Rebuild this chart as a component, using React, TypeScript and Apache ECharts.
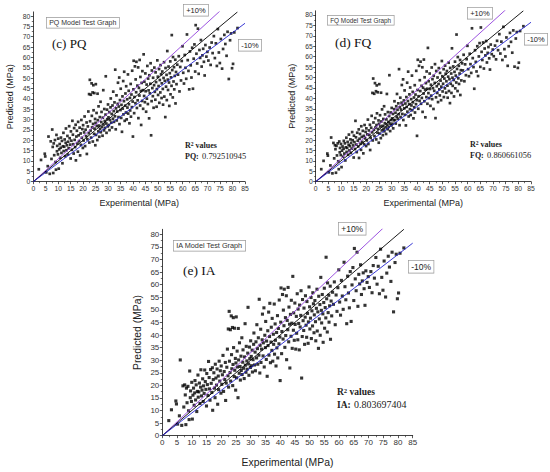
import React, { useEffect, useRef } from "react";
import * as echarts from "echarts";

const xTicks = [0, 5, 10, 15, 20, 25, 30, 35, 40, 45, 50, 55, 60, 65, 70, 75, 80, 85];
const yTicks = [0, 5, 10, 15, 20, 25, 30, 35, 40, 45, 50, 55, 60, 65, 70, 75, 80];

const experimental = [
  2.2, 3.1, 4.6, 4.8, 5.2, 5.8, 6.1, 6.6, 7.0, 7.3, 7.6, 7.8, 8.0, 8.2, 8.4, 8.7, 8.9, 9.1, 9.3, 9.5, 9.6, 9.9, 10.0, 10.2, 10.4,
  10.6, 10.8, 11.0, 11.1, 11.3, 11.5, 11.7, 11.9, 12.1, 12.2, 12.4, 12.6, 12.8, 13.0, 13.1, 13.3, 13.5, 13.7, 13.9, 14.0,
  14.2, 14.4, 14.6, 14.8, 15.0, 15.1, 15.3, 15.5, 15.7, 15.9, 16.0, 16.2, 16.4, 16.6, 16.8, 17.0, 17.1, 17.3, 17.5, 17.7,
  17.9, 18.0, 18.2, 18.4, 18.6, 18.8, 19.0, 19.1, 19.3, 19.5, 19.7, 19.9, 20.0, 20.2, 20.4,
  20.6, 20.8, 21.0, 21.2, 21.4, 21.5, 21.7, 21.9, 22.1, 22.3, 22.4, 22.5, 22.7, 22.8, 23.0, 23.1, 23.2, 23.4, 23.5, 23.6,
  23.8, 23.9, 24.0, 24.1, 24.2, 24.4, 24.5, 24.6, 24.8, 24.9, 25.0, 25.1, 25.2, 25.4, 25.5, 25.7, 25.8, 25.9, 26.1, 26.2,
  26.4, 26.5, 26.7, 26.8, 27.0, 27.1, 27.3, 27.4, 27.6, 27.8, 27.9, 28.1, 28.2, 28.4, 28.5, 28.7, 28.8, 29.0, 29.1, 29.3,
  29.4, 29.6, 29.7, 29.9, 30.0, 30.2, 30.3, 30.5, 30.6, 30.8,
  31.0, 31.1, 31.3, 31.5, 31.6, 31.8, 32.0, 32.1, 32.3, 32.4, 32.6, 32.8, 32.9, 33.1, 33.2, 33.4, 33.5, 33.7, 33.9, 34.0,
  34.2, 34.3, 34.5, 34.6, 34.8, 35.0, 35.1, 35.3, 35.4, 35.6, 35.8, 35.9, 36.1, 36.2, 36.4, 36.5, 36.7, 36.9, 37.0, 37.2,
  37.3, 37.5, 37.7, 37.8, 38.0, 38.1, 38.3, 38.4, 38.6, 38.8, 38.9, 39.1, 39.2, 39.4, 39.6, 39.7, 39.9, 40.0, 40.2, 40.3,
  40.5, 40.6, 40.8, 41.0, 41.1, 41.3, 41.4, 41.6, 41.8, 41.9, 42.1, 42.2, 42.4, 42.6, 42.7, 42.9, 43.0, 43.2, 43.3, 43.5,
  43.7, 43.8, 44.0, 44.1, 44.3, 44.5, 44.6, 44.8, 45.0, 45.1,
  45.3, 45.5, 45.6, 45.8, 46.0, 46.1, 46.3, 46.5, 46.6, 46.8, 47.0, 47.1, 47.3, 47.5, 47.6, 47.8, 48.0, 48.1, 48.3, 48.5,
  48.6, 48.8, 49.0, 49.1, 49.3, 49.5, 49.6, 49.8, 50.0, 50.1, 50.3, 50.5, 50.6, 50.8, 51.0, 51.1, 51.3, 51.5, 51.6, 51.8,
  52.0, 52.1, 52.3, 52.5, 52.6, 52.8, 53.0, 53.1, 53.3, 53.5, 53.6, 53.8, 54.0, 54.1, 54.3, 54.5, 54.6, 54.8, 55.0, 55.1,
  55.3, 55.5, 55.6, 55.8, 56.0, 56.1, 56.3, 56.5, 56.6, 56.8, 57.0, 57.1, 57.3, 57.5, 57.8,
  58.1, 58.4, 58.7, 59.0, 59.3, 59.6, 59.9, 60.2, 60.5, 60.8, 61.1, 61.4, 61.7, 62.0, 62.3, 62.6, 62.9, 63.2, 63.5, 63.8,
  64.1, 64.4, 64.7, 65.0, 65.2, 65.5, 65.8, 66.1, 66.4, 66.7, 67.0, 67.3, 67.6, 67.9, 68.2, 68.5, 68.8, 69.1, 69.5, 69.9,
  70.3, 70.8, 71.2, 71.6, 72.0, 72.5, 72.9, 73.3, 73.7, 74.1, 74.5, 74.9, 75.3, 75.8, 76.2, 76.7, 77.1, 77.6, 78.0, 78.5,
  79.0, 79.4, 79.8, 80.2, 80.7, 82.0,
];

const predictedPQ = [
  6, 10.5, 13.5, 12.2, 4.5, 7.5, 21.8, 3.8, 19.5, 11, 25.2, 16.8, 4.2, 18.5, 12.8, 20.1, 9.5, 5.8, 22.6, 14.7, 17.3, 13.2, 20.8, 6.3, 15.6,
  18.2, 11.5, 16.4, 21.3, 13.9, 19.7, 8.9, 17.1, 23.6, 14.8, 16.9, 20.4, 12.3, 18.8, 25.7, 15.2, 17.6, 22.1, 13.1, 19.3,
  16.2, 26.8, 21.0, 17.9, 11.2, 24.3, 19.8, 15.4, 29.4, 22.7, 18.1, 13.6, 25.9, 20.2, 16.7, 27.5, 10.3, 21.8, 24.6, 18.4,
  14.5, 28.9, 22.4, 19.6, 26.1, 12.7, 23.3, 17.8, 29.8, 21.2, 25.4, 16.3, 27.3, 19.9, 23.8,
  31.5, 17.2, 25.1, 22.0, 28.6, 13.4, 20.5, 26.7, 33.9, 23.4, 42.3, 18.9, 49.2, 29.2, 24.7, 42.0, 21.3, 47.5, 31.8, 26.2,
  43.1, 19.4, 27.9, 46.6, 34.5, 23.1, 42.8, 25.6, 30.3, 17.6, 28.4, 47.1, 22.6, 33.2, 26.9, 20.1, 42.5, 29.7, 24.3, 36.4,
  27.1, 21.7, 31.2, 25.5, 38.6, 23.9, 28.8, 33.7, 26.4, 22.2, 30.9, 44.2, 27.6, 24.8, 35.1, 29.3, 26.0, 32.4, 50.9, 28.1,
  23.6, 34.8, 30.2, 26.7, 37.3, 31.1, 27.4, 33.6, 24.9, 29.8,
  35.9, 40.2, 28.5, 32.7, 26.2, 36.8, 30.4, 43.5, 34.1, 28.9, 38.3, 31.6, 54.1, 25.3, 35.4, 41.7, 29.6, 33.9, 37.6, 47.8,
  31.2, 36.3, 50.3, 27.8, 39.4, 34.6, 44.9, 30.8, 37.1, 24.1, 41.2, 35.3, 48.6, 32.5, 38.9, 53.1, 29.4, 36.7, 42.6, 33.4,
  46.1, 30.1, 39.8, 35.8, 51.8, 32.9, 43.9, 37.4, 28.2, 40.5, 34.4, 47.2, 31.4, 42.1, 36.0, 53.6, 38.7, 21.8, 44.6, 58.4,
  33.1, 40.9, 55.7, 37.9, 49.4, 43.2, 57.9, 35.6, 46.4, 39.3, 55.2, 30.7, 45.3, 41.6, 58.8, 36.8, 50.6, 43.8, 27.4, 47.7,
  39.0, 53.4, 44.2, 35.2, 61.5, 41.4, 48.3, 38.4, 52.3, 43.7,
  33.8, 46.9, 40.1, 55.9, 37.5, 49.8, 44.1, 30.6, 51.4, 42.7, 47.3, 57.2, 22.4, 38.9, 53.7, 45.2, 41.3, 50.2, 35.7, 46.6,
  55.1, 43.4, 39.6, 52.8, 48.1, 36.2, 44.7, 58.6, 50.7, 41.9, 46.2, 54.4, 38.1, 49.1, 43.1, 56.3, 51.9, 40.4, 47.5, 53.2,
  44.8, 37.2, 50.1, 57.7, 41.1, 48.7, 31.2, 54.9, 45.9, 51.6, 39.4, 63.1, 49.3, 44.3, 55.6, 47.9, 36.6, 52.4, 58.1, 42.2,
  50.4, 46.3, 70.8, 53.9, 40.7, 60.2, 48.4, 55.3, 44.6, 51.1, 58.9, 37.8, 53.0, 47.1, 56.5,
  51.7, 60.6, 43.6, 55.4, 48.9, 58.3, 65.4, 52.6, 47.4, 61.2, 55.0, 49.7, 71.1, 58.7, 53.5, 44.6, 62.9, 56.2, 50.3, 64.7,
  44.9, 59.4, 66.3, 53.2, 75.6, 61.8, 57.1, 73.9, 52.1, 63.6, 59.8, 68.4, 55.6, 61.0, 64.2, 57.9, 51.3, 66.0, 60.4, 62.7,
  58.5, 64.8, 56.4, 67.2, 62.1, 70.3, 59.7, 66.8, 55.9, 73.7, 62.4, 57.3, 68.9, 54.6, 64.1, 70.9, 66.5, 60.8, 72.4, 49.6,
  68.3, 71.6, 54.8, 56.9, 72.1, 74.2,
];

const predictedFQ = [
  6, 10, 13.5, 12.5, 4.5, 7.8, 21.2, 4, 18.6, 11.2, 17.5, 15.6, 4.3, 17.2, 12.6, 18.4, 9.8, 6, 19.3, 14.1, 16.2, 12.8, 18.1, 7, 14.9,
  16.9, 12.0, 15.8, 19.6, 13.5, 18.4, 10.2, 16.5, 21.1, 14.3, 16.2, 19.1, 12.9, 17.7, 22.6, 15.0, 17.1, 20.3, 13.8, 18.6,
  15.9, 23.8, 19.9, 17.4, 11.6, 22.1, 19.0, 15.7, 29.2, 21.3, 17.8, 14.2, 23.5, 19.7, 16.9, 25.1, 11.4, 20.6, 22.9, 18.2,
  15.3, 26.6, 21.5, 19.1, 24.4, 13.6, 22.0, 18.0, 27.2, 20.8, 23.9, 17.1, 25.6, 19.8, 22.7,
  29.8, 18.1, 24.6, 22.4, 27.3, 15.2, 21.0, 25.9, 31.6, 23.7, 42.6, 19.8, 49.5, 28.4, 24.9, 42.2, 21.9, 47.3, 30.5, 26.0,
  43.4, 20.3, 27.2, 46.2, 32.8, 23.5, 42.9, 25.3, 29.4, 18.7, 27.8, 46.8, 23.1, 31.9, 26.5, 20.9, 42.7, 28.9, 24.6, 34.7,
  26.8, 22.3, 30.1, 25.4, 36.2, 24.2, 28.1, 32.3, 26.1, 22.9, 29.9, 42.1, 27.3, 25.2, 33.4, 28.7, 26.3, 31.5, 51.1, 27.9,
  24.3, 33.2, 29.6, 27.0, 35.4, 30.4, 27.8, 32.5, 25.6, 29.5,
  34.8, 38.6, 29.6, 33.1, 27.9, 36.2, 31.2, 42.1, 34.5, 30.2, 37.6, 32.4, 54.0, 27.1, 35.7, 40.3, 31.0, 34.6, 37.9, 46.4,
  32.5, 36.8, 49.1, 29.6, 39.0, 35.2, 43.8, 32.1, 37.5, 27.0, 40.6, 35.9, 47.5, 33.6, 38.7, 52.8, 31.3, 37.2, 41.9, 34.8,
  45.2, 32.0, 39.6, 36.6, 50.9, 34.3, 43.1, 38.1, 30.4, 40.4, 35.7, 46.3, 33.2, 41.8, 37.2, 53.2, 39.1, 22.0, 44.0, 58.5,
  35.0, 41.0, 55.6, 38.8, 48.7, 43.5, 57.6, 37.4, 46.0, 40.2, 54.9, 33.5, 45.1, 42.3, 58.6, 38.6, 50.1, 44.2, 30.9, 47.3,
  40.6, 52.9, 44.6, 37.4, 64.2, 42.5, 48.2, 40.1, 51.9, 44.5,
  36.4, 46.5, 41.3, 54.8, 39.6, 49.2, 44.9, 34.9, 50.8, 43.6, 47.4, 56.4, 30.5, 40.5, 53.1, 45.8, 42.6, 50.0, 38.2, 46.9,
  54.5, 44.3, 41.4, 52.2, 48.5, 39.1, 45.6, 57.9, 50.6, 43.3, 47.0, 54.0, 40.6, 49.5, 44.8, 55.7, 51.8, 42.7, 48.2, 53.1,
  46.1, 40.3, 50.4, 57.1, 43.5, 49.2, 37.7, 54.6, 47.0, 51.9, 42.6, 64.0, 49.9, 46.0, 55.3, 48.8, 40.9, 52.7, 57.6, 44.8,
  50.9, 47.6, 70.6, 54.1, 43.5, 59.8, 49.6, 55.6, 46.9, 51.9, 58.4, 41.6, 53.5, 48.6, 56.8,
  53.4, 60.9, 48.2, 56.3, 51.1, 58.8, 65.2, 54.0, 50.6, 61.4, 56.4, 52.2, 73.6, 59.3, 55.0, 44.6, 63.1, 57.5, 52.9, 65.0,
  50.7, 60.1, 66.5, 55.1, 74.0, 62.3, 58.4, 66.8, 54.3, 63.9, 60.6, 67.5, 57.2, 61.8, 64.6, 59.2, 53.8, 65.8, 61.2, 63.4,
  60.2, 65.3, 58.7, 67.6, 63.1, 70.8, 61.5, 67.2, 58.4, 74.3, 63.6, 60.1, 69.2, 55.6, 65.0, 71.4, 67.1, 61.9, 72.6, 55.2,
  68.7, 71.8, 54.6, 57.1, 72.3, 74.6,
];

const predictedIA = [
  6, 10.3, 13.8, 12.6, 4.6, 7.9, 30.1, 4.1, 19.8, 11.4, 20.2, 16.2, 4.4, 18.9, 13.1, 19.6, 9.9, 6.4, 25.7, 15.1, 17.8, 13.6, 21.2, 6.6, 16.1,
  18.9, 12.1, 17.0, 21.9, 14.2, 20.2, 9.6, 17.6, 24.1, 15.3, 17.4, 20.9, 12.8, 19.3, 26.2, 15.8, 18.1, 22.6, 13.6, 19.8,
  16.8, 26.1, 21.5, 18.4, 11.8, 24.7, 20.3, 16.0, 29.5, 23.1, 18.6, 14.1, 26.3, 20.8, 17.2, 27.0, 10.1, 22.3, 25.0, 18.9,
  15.1, 28.4, 22.9, 20.1, 26.5, 12.5, 23.7, 18.3, 29.6, 21.7, 25.8, 16.9, 27.7, 20.4, 24.2,
  31.9, 17.6, 25.5, 22.3, 29.1, 14.0, 20.9, 27.2, 34.4, 23.8, 42.4, 19.3, 49.4, 29.6, 25.1, 42.1, 21.7, 47.6, 32.2, 26.6,
  43.0, 19.9, 28.3, 46.9, 35.0, 23.5, 42.7, 26.0, 30.7, 18.1, 28.9, 47.2, 23.0, 33.6, 27.3, 15.1, 42.6, 30.1, 24.8, 36.9,
  27.5, 22.1, 31.6, 25.9, 38.9, 24.3, 29.2, 34.1, 26.8, 22.7, 31.3, 44.5, 28.0, 25.2, 35.5, 29.7, 26.4, 32.8, 51.0, 28.5,
  24.0, 35.2, 30.6, 27.1, 37.7, 31.5, 27.8, 34.0, 25.3, 30.2,
  36.3, 40.8, 28.1, 33.2, 25.8, 37.3, 30.9, 44.1, 34.6, 28.4, 38.9, 32.0, 54.2, 24.9, 35.9, 42.3, 29.1, 34.4, 38.1, 48.3,
  31.7, 36.9, 50.8, 27.3, 39.9, 35.0, 45.4, 30.3, 37.6, 23.6, 41.7, 35.8, 49.1, 32.0, 39.4, 52.6, 29.0, 37.2, 43.1, 33.9,
  46.6, 29.6, 40.3, 36.3, 52.3, 32.4, 44.4, 37.9, 27.7, 41.0, 34.9, 47.7, 30.9, 42.6, 36.5, 53.9, 39.2, 21.9, 45.1, 58.7,
  32.6, 41.4, 56.1, 38.4, 49.9, 43.7, 58.2, 35.1, 46.9, 39.8, 55.6, 30.2, 45.8, 42.1, 58.9, 37.3, 51.1, 44.3, 26.9, 48.2,
  39.5, 53.8, 44.7, 34.7, 63.3, 41.9, 48.8, 37.9, 52.7, 44.2,
  34.4, 47.4, 40.7, 56.4, 38.1, 50.3, 44.6, 34.1, 51.9, 43.2, 47.8, 57.6, 22.9, 39.4, 54.1, 45.7, 41.8, 50.7, 36.3, 47.1,
  55.6, 43.9, 39.1, 53.3, 48.6, 36.7, 45.2, 59.1, 51.2, 42.4, 46.7, 54.9, 38.6, 49.6, 43.6, 56.8, 52.4, 40.9, 48.0, 53.7,
  45.3, 37.7, 50.6, 58.2, 41.6, 49.2, 34.7, 55.4, 46.4, 52.1, 39.9, 62.9, 49.8, 44.8, 56.1, 48.4, 37.1, 52.9, 58.6, 42.7,
  50.9, 46.8, 70.9, 54.4, 41.2, 60.7, 48.9, 55.8, 45.1, 51.6, 59.4, 38.3, 53.5, 47.6, 57.0,
  52.2, 61.1, 44.1, 55.9, 49.4, 58.8, 65.9, 53.1, 47.9, 61.7, 55.5, 50.2, 68.9, 59.2, 54.0, 44.5, 63.4, 56.7, 50.8, 65.2,
  45.4, 59.9, 66.8, 53.7, 74.4, 62.3, 57.6, 72.9, 51.4, 64.1, 60.3, 67.9, 56.1, 61.5, 64.7, 58.4, 51.8, 65.5, 60.9, 63.2,
  58.9, 65.2, 56.8, 67.6, 62.6, 70.8, 60.2, 67.3, 56.4, 74.1, 62.9, 57.8, 69.4, 55.1, 64.6, 71.3, 67.0, 61.3, 72.9, 49.2,
  68.8, 72.1, 54.4, 56.7, 72.5, 74.6,
];

const linePerfect = [[0, 0], [82, 82]];
const linePlus10 = [[0, 0], [75, 82.5]];
const lineMinus10 = [[0, 0], [85, 76.5]];

const models = ["PQ", "FQ", "IA"];
const panelTags = ["(c)", "(d)", "(e)"];
const r2Values = ["0.792510945", "0.860661056", "0.803697404"];
const predictions = [predictedPQ, predictedFQ, predictedIA];

const SANS = "'Liberation Sans', Arial, sans-serif";
const SERIF = "'Liberation Serif', 'Times New Roman', serif";

// panel geometry (pixels)
const panels = [
  { left: 33.3, top: 11.9, width: 211.7, height: 169.8, tick: 6.8, title: 9, nameGapX: 16.5, nameGapY: 19,
    boxX: 46, boxY: 17, boxFs: 7, tagX: 52, tagY: 44, tagFs: 13,
    plusX: 183, plusY: 4, minusX: 238, minusY: 39, pmFs: 7.5,
    r2X: 185, r2Top: 140.5, numTop: 150.5, r2Fs: 8, sym: 2.7 },
  { left: 315.7, top: 10.8, width: 215.3, height: 170.9, tick: 6.8, title: 9, nameGapX: 16.5, nameGapY: 19,
    boxX: 327, boxY: 15, boxFs: 6.4, tagX: 335, tagY: 43, tagFs: 13.5,
    plusX: 467, plusY: 7, minusX: 524, minusY: 33, pmFs: 7.5,
    r2X: 470, r2Top: 139.5, numTop: 149.5, r2Fs: 8, sym: 2.7 },
  { left: 162.3, top: 229.3, width: 250.4, height: 206.4, tick: 8, title: 10.4, nameGapX: 21.5, nameGapY: 20,
    boxX: 173, boxY: 240, boxFs: 7.3, tagX: 183, tagY: 271, tagFs: 13.5,
    plusX: 338, plusY: 222, minusX: 408, minusY: 260, pmFs: 8.5,
    r2X: 337, r2Top: 386.5, numTop: 398.5, r2Fs: 9.5, sym: 3.1 },
];

function buildOption() {
  const grid: any[] = [];
  const xAxis: any[] = [];
  const yAxis: any[] = [];
  const series: any[] = [];
  const graphic: any[] = [];

  panels.forEach((p, i) => {
    grid.push({ left: p.left, top: p.top, width: p.width, height: p.height, containLabel: false });
    const axisLine = { show: true, lineStyle: { color: "#111", width: 0.8 } };
    xAxis.push({
      gridIndex: i, type: "value", min: 0, max: 85, interval: 5,
      axisLine, axisTick: { show: true, length: 2.5, lineStyle: { color: "#111", width: 0.7 } },
      minorTick: { show: true, splitNumber: 2, length: 1.5, lineStyle: { color: "#111", width: 0.6 } },
      axisLabel: { fontSize: p.tick, color: "#333", margin: 3, fontFamily: SANS, customValues: xTicks },
      splitLine: { show: false },
      name: "Experimental (MPa)", nameLocation: "middle", nameGap: p.nameGapX,
      nameTextStyle: { fontSize: p.title, color: "#222", fontFamily: SANS },
    });
    yAxis.push({
      gridIndex: i, type: "value", min: 0, max: 82, interval: 5,
      axisLine,
      axisTick: { show: true, length: 2.5, customValues: yTicks, lineStyle: { color: "#111", width: 0.7 } },
      minorTick: { show: true, splitNumber: 2, length: 1.5, lineStyle: { color: "#111", width: 0.6 } },
      axisLabel: { fontSize: p.tick, color: "#333", margin: 3, fontFamily: SANS, customValues: yTicks },
      splitLine: { show: false },
      name: "Predicted (MPa)", nameLocation: "middle", nameGap: p.nameGapY, nameRotate: 90,
      nameTextStyle: { fontSize: p.title, color: "#222", fontFamily: SANS },
    });
    const pred = predictions[i];
    const n = Math.min(experimental.length, pred.length);
    const pts: number[][] = [];
    for (let k = 0; k < n; k++) pts.push([experimental[k], pred[k]]);
    series.push({
      type: "scatter", xAxisIndex: i, yAxisIndex: i, data: pts,
      symbol: "rect", symbolSize: p.sym,
      itemStyle: { color: "#000" }, silent: true,
    });
    const lines = [
      { d: linePlus10, c: "#9140dc" },
      { d: linePerfect, c: "#000" },
      { d: lineMinus10, c: "#2323cf" },
    ];
    lines.forEach((l) => {
      series.push({
        type: "line", xAxisIndex: i, yAxisIndex: i, data: l.d, showSymbol: false, symbol: "none",
        lineStyle: { color: l.c, width: 0.9 }, silent: true, z: 3,
      });
    });

    const boxStyle = {
      fill: "#333", fontFamily: SANS, fontWeight: "normal", backgroundColor: "#fff",
      borderColor: "#999", borderWidth: 0.7, padding: [1.5, 2.5],
    };
    graphic.push({
      type: "text", left: p.boxX, top: p.boxY, z: 10,
      style: { ...boxStyle, text: models[i] + " Model Test Graph", fontSize: p.boxFs },
    });
    graphic.push({
      type: "text", left: p.tagX, top: p.tagY - p.tagFs / 2 - 1, z: 10,
      style: { text: panelTags[i] + " " + models[i], fontSize: p.tagFs, fontFamily: SERIF, fontWeight: "normal", fill: "#111" },
    });
    graphic.push({
      type: "text", left: p.plusX, top: p.plusY, z: 10,
      style: { ...boxStyle, text: "+10%", fontSize: p.pmFs, fill: "#222" },
    });
    graphic.push({
      type: "text", left: p.minusX, top: p.minusY, z: 10,
      style: { ...boxStyle, text: "-10%", fontSize: p.pmFs, fill: "#222" },
    });
    graphic.push({
      type: "text", left: p.r2X, top: p.r2Top, z: 10,
      style: {
        text: "{b|R}{s|2}{b| values}",
        rich: {
          b: { fontSize: p.r2Fs, fontWeight: "bold", fontFamily: SERIF, fill: "#222" },
          s: { fontSize: p.r2Fs * 0.7, fontWeight: "bold", fontFamily: SERIF, fill: "#222", verticalAlign: "top", padding: [0, 0, p.r2Fs * 0.5, 0] },
        },
      },
    });
    graphic.push({
      type: "text", left: p.r2X, top: p.numTop, z: 10,
      style: {
        text: "{b|" + models[i] + ":} {n|" + r2Values[i] + "}",
        rich: {
          b: { fontSize: p.r2Fs, fontWeight: "bold", fontFamily: SERIF, fill: "#222" },
          n: { fontSize: p.r2Fs * 1.05, fontFamily: SERIF, fontWeight: "normal", fill: "#222" },
        },
      },
    });
  });

  return { animation: false, backgroundColor: "#fff", grid, xAxis, yAxis, series, graphic };
}

export default function App() {
  const ref = useRef<HTMLDivElement>(null);
  useEffect(() => {
    if (!ref.current) return;
    const chart = echarts.init(ref.current, undefined, { renderer: "svg" });
    chart.setOption(buildOption());
    return () => chart.dispose();
  }, []);
  return (
    <div
      ref={ref}
      style={{ position: "fixed", left: 0, top: 0, width: 550, height: 472, background: "#fff" }}
    />
  );
}
